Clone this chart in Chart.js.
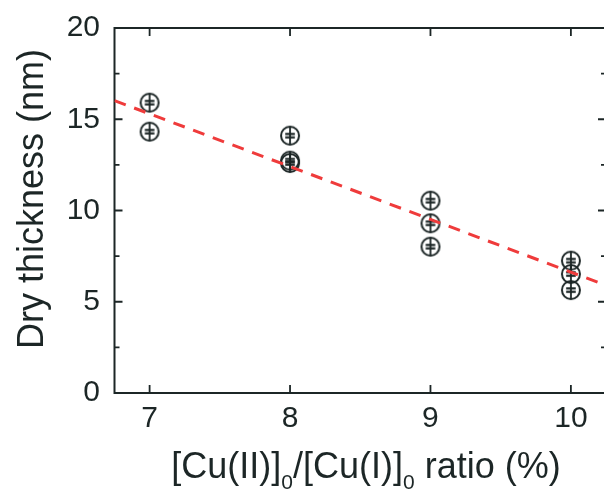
<!DOCTYPE html>
<html><head><meta charset="utf-8">
<script src="https://cdn.jsdelivr.net/npm/chart.js@4/dist/chart.umd.min.js"></script>
<style>
html,body{margin:0;padding:0;background:#fff;overflow:hidden;width:604px;height:489px;}
#wrap{position:absolute;left:0;top:0;width:620px;height:489px;}
</style></head><body>
<div id="wrap"><canvas id="c" width="620" height="489"></canvas></div>
<script>
// ---- data ----
const ratioX = [7, 7, 8, 8, 8, 9, 9, 9, 10, 10, 10];
const thickness = [15.91, 14.32, 14.10, 12.73, 12.60, 10.54, 9.30, 8.02, 7.25, 6.52, 5.64];
const fitX = [6.75, 10.25];
const fitY = [16.02, 5.90];
const xTicks = [7, 8, 9, 10];
const yTicks = [0, 5, 10, 15, 20];
const yMinorTicks = [2.5, 7.5, 12.5, 17.5];
const yTitle = 'Dry thickness (nm)';
const xTitleParts = [['[Cu(II)]', false], ['0', true], ['/[Cu(I)]', false], ['0', true], [' ratio (%)', false]];

const INK = '#1c2626';
const FONT = '"Liberation Sans", Arial, sans-serif';

function makeMarker() {
  const s = 26, c = document.createElement('canvas');
  c.width = s; c.height = s;
  const g = c.getContext('2d'), m = s / 2, r = 9;
  g.strokeStyle = INK; g.fillStyle = INK;
  g.lineWidth = 2;
  g.beginPath(); g.arc(m, m, r, 0, Math.PI * 2); g.stroke();
  g.lineWidth = 1.8;
  g.beginPath(); g.moveTo(m, m - r); g.lineTo(m, m + r); g.stroke();
  g.fillRect(m - 4.8, m - 2.8, 9.6, 2.2);
  g.fillRect(m - 4.8, m + 0.6, 9.6, 2.2);
  return c;
}

const axesPlugin = {
  id: 'axesPlugin',
  beforeDatasetsDraw(chart) {
    const {ctx, chartArea: a, scales: {x, y}} = chart;
    ctx.save();
    ctx.strokeStyle = INK;
    ctx.lineWidth = 2;
    ctx.strokeRect(a.left, a.top, a.right - a.left, a.bottom - a.top);
    ctx.lineWidth = 1.8;
    ctx.beginPath();
    yTicks.forEach(v => {
      const p = y.getPixelForValue(v);
      ctx.moveTo(a.left, p); ctx.lineTo(a.left + 8, p);
      ctx.moveTo(a.right, p); ctx.lineTo(a.right - 8, p);
    });
    yMinorTicks.forEach(v => {
      const p = y.getPixelForValue(v);
      ctx.moveTo(a.left, p); ctx.lineTo(a.left + 5, p);
      ctx.moveTo(a.right, p); ctx.lineTo(a.right - 5, p);
    });
    xTicks.forEach(v => {
      const p = x.getPixelForValue(v);
      ctx.moveTo(p, a.bottom); ctx.lineTo(p, a.bottom - 8);
      ctx.moveTo(p, a.top); ctx.lineTo(p, a.top + 8);
    });
    ctx.stroke();
    ctx.restore();
  },
  afterDraw(chart) {
    const {ctx} = chart;
    ctx.save();
    ctx.fillStyle = INK;
    ctx.font = '36px ' + FONT;
    ctx.textAlign = 'center';
    ctx.textBaseline = 'alphabetic';
    ctx.translate(43, 199);
    ctx.rotate(-Math.PI / 2);
    ctx.fillText(yTitle, 0, 0);
    ctx.restore();
    ctx.save();
    ctx.fillStyle = INK;
    ctx.textAlign = 'left';
    ctx.textBaseline = 'alphabetic';
    const big = '36px ' + FONT, small = '21px ' + FONT;
    let total = 0;
    xTitleParts.forEach(([t, sub]) => { ctx.font = sub ? small : big; total += ctx.measureText(t).width; });
    let cx = 366 - total / 2;
    const base = 478;
    xTitleParts.forEach(([t, sub]) => {
      ctx.font = sub ? small : big;
      ctx.fillText(t, cx, sub ? base + 11 : base);
      cx += ctx.measureText(t).width;
    });
    ctx.restore();
  }
};

const scatterData = ratioX.map((v, i) => ({x: v, y: thickness[i]}));
const fitData = fitX.map((v, i) => ({x: v, y: fitY[i]}));

new Chart(document.getElementById('c'), {
  type: 'scatter',
  data: {
    datasets: [
      {
        type: 'line', data: fitData, borderColor: '#ef3b3b', borderWidth: 3,
        borderDash: [12, 9], pointRadius: 0, fill: false, showLine: true
      },
      {
        data: scatterData, pointStyle: makeMarker(), pointRadius: 13
      }
    ]
  },
  options: {
    responsive: false,
    animation: false,
    layout: {padding: {top: 28, right: 9, left: 0, bottom: 0}},
    plugins: {legend: {display: false}, tooltip: {enabled: false}},
    scales: {
      x: {
        type: 'linear', min: 6.75, max: 10.25,
        afterBuildTicks: s => { s.ticks = xTicks.map(v => ({value: v})); },
        afterFit: s => { s.height = 96; s.paddingLeft = 0; s.paddingRight = 0; },
        grid: {display: false, drawTicks: false},
        border: {display: false},
        ticks: {font: {size: 30, family: FONT}, color: INK, padding: 8, maxRotation: 0}
      },
      y: {
        type: 'linear', min: 0, max: 20,
        afterBuildTicks: s => { s.ticks = yTicks.map(v => ({value: v})); },
        afterFit: s => { s.width = 114.5; s.paddingTop = 0; s.paddingBottom = 0; },
        grid: {display: false, drawTicks: false},
        border: {display: false},
        ticks: {font: {size: 30, family: FONT}, color: INK, padding: 14.5}
      }
    }
  },
  plugins: [axesPlugin]
});
</script>
</body></html>
